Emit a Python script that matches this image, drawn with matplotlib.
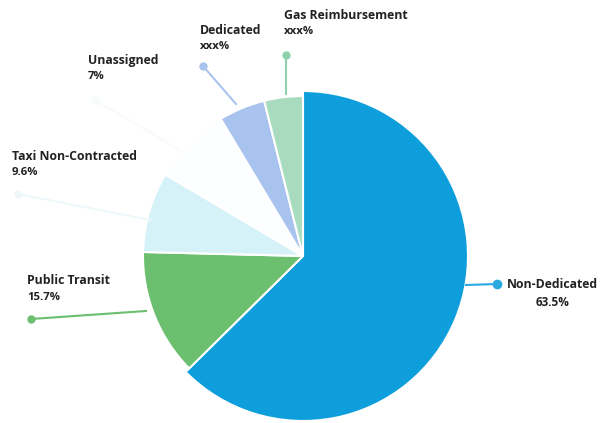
import matplotlib
matplotlib.use("Agg")
import matplotlib.pyplot as plt
import numpy as np

# Data (clockwise from 12 o'clock)
categories = ["Non-Dedicated", "Public Transit", "Taxi Non-Contracted", "Unassigned", "Dedicated", "Gas Reimbursement"]
values = [62.6, 12.8, 8.1, 7.9, 4.7, 3.9]
value_labels = ["63.5%", "15.7%", "9.6%", "7%", "xxx%", "xxx%"]

colors = ["#0e9edb", "#6bbf6f", "#d5f2f8", "#fdfeff", "#a9c3ef", "#a9dcbf"]
line_colors = ["#2aa8e0", "#6bbf6f", "#eef8fb", "#f8fbfc", "#a9c3ef", "#8fd1ad"]

W, H = 602, 423
fig = plt.figure(figsize=(W / 100, H / 100), dpi=100)
ax = fig.add_axes([0, 0, 1, 1])

cx, cy = 303, H - 256
wedges, _ = ax.pie(values, colors=colors, startangle=90, counterclock=False,
                   radius=165, center=(cx, cy), frame=True,
                   wedgeprops=dict(edgecolor="white", linewidth=1.5))
ax.set_xlim(0, W)
ax.set_ylim(0, H)
ax.axis("off")
for w in wedges[1:]:
    w.set_radius(160)

# annotation layout: (dot x, dot y, line end x, line end y, text x, text y)
layout = [
    (497, 284, 466, 285, 507, 284),
    (31, 319, 146, 311, 27, 281),
    (18, 194, 150, 220, 12, 156),
    (95, 100, 180, 150, 88, 60),
    (203, 66, 236, 104, 200, 30),
    (286, 55, 286, 94, 284, 15),
]

font = dict(family="Open Sans", fontweight="bold", color="#222222")
for i, (name, vl) in enumerate(zip(categories, value_labels)):
    dx, dy, ex, ey, tx, ty = layout[i]
    ax.plot([dx, ex], [H - dy, H - ey], color=line_colors[i], lw=1.5, zorder=1)
    ax.plot([dx], [H - dy], "o", color=line_colors[i], ms=6 if i == 0 else 5, zorder=2)
    ax.text(tx, H - ty, name, fontsize=8.8, ha="left", va="center", **font)
    if i == 0:
        ax.text(553, H - 302, vl, fontsize=8.5, ha="center", va="center", **font)
    else:
        ax.text(tx, H - ty - 16, vl, fontsize=8.2, ha="left", va="center", **font)

fig.savefig("out.png", dpi=100)
